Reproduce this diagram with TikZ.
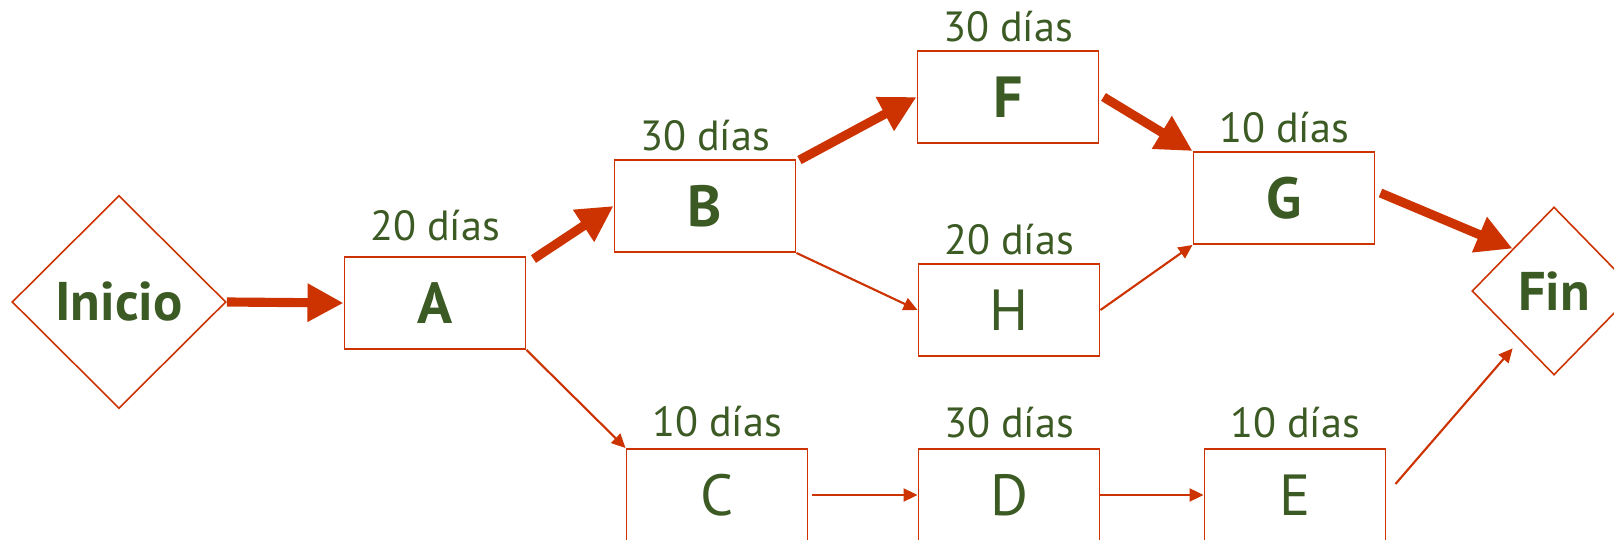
\documentclass[tikz,border=0pt]{standalone}
\usepackage{fontspec}
\setmainfont{PT Sans}
\usetikzlibrary{shapes.geometric,arrows.meta,positioning}
\definecolor{rojo}{RGB}{204,51,0}
\definecolor{verde}{RGB}{60,90,36}

\begin{document}
\begin{tikzpicture}[
  node distance=0.2cm,
  tarea/.style={rectangle, draw=rojo, line width=1.1pt,
    minimum width=3.62cm, minimum height=1.84cm,
    font=\fontsize{33}{36}\selectfont, text=verde},
  hito/.style={diamond, draw=rojo, line width=0.9pt, inner sep=0pt,
    font=\fontsize{31}{36}\selectfont\bfseries, text=verde},
  dur/.style={font=\fontsize{24}{28}\selectfont, text=verde,
    inner sep=0pt},
  crit/.style={-{Triangle[length=0.72cm,width=0.72cm]},
    line width=5.2pt, draw=rojo},
  flecha/.style={-{Triangle[length=0.28cm,width=0.26cm]},
    line width=1.2pt, draw=rojo}
]
  \useasboundingbox (0,0) rectangle (32.28,10.8);
  \clip (0,0) rectangle (32.28,10.8);

  % hitos
  \node[hito, minimum width=4.28cm, minimum height=4.26cm]
    (ini) at (2.38,4.76) {Inicio};
  \node[hito, minimum width=3.28cm, minimum height=3.36cm]
    (fin) at (31.08,4.98) {Fin};

  % actividades
  \node[tarea] (A) at (8.70,4.74)  {\textbf{A}};
  \node[tarea] (B) at (14.10,6.68) {\textbf{B}};
  \node[tarea] (F) at (20.16,8.86) {\textbf{F}};
  \node[tarea] (G) at (25.68,6.84) {\textbf{G}};
  \node[tarea] (H) at (20.18,4.60) {H};
  \node[tarea] (C) at (14.34,0.90) {C};
  \node[tarea] (D) at (20.18,0.90) {D};
  \node[tarea] (E) at (25.90,0.90) {E};

  % duraciones
  \node[dur, above=0.3cm of A] (dA) {20 días};
  \node[dur, above=0.16cm of B] (dB) {30 días};
  \node[dur, above=0.16cm of F] (dF) {30 días};
  \node[dur, above=0.16cm of G] (dG) {10 días};
  \node[dur, above=0.16cm of H] (dH) {20 días};
  \node[dur, above=0.22cm of C] (dC) {10 días};
  \node[dur, above=0.2cm of D] (dD) {30 días};
  \node[dur, above=0.2cm of E] (dE) {10 días};

  % ruta critica
  \draw[crit] (ini.east) -- (A.west);
  \draw[crit] ([shift={(0.14,-0.06)}]A.north east) -- (B.west);
  \draw[crit] ([shift={(0.06,-0.02)}]B.north east) -- (F.west);
  \draw[crit] ([shift={(0.08,0.0)}]F.east) -- (G.north west);
  \draw[crit] ([shift={(0.1,0.1)}]G.east) -- (fin.north west);

  % resto
  \draw[flecha] (B.south east) -- (H.west);
  \draw[flecha] (H.east) -- (G.south west);
  \draw[flecha] (A.south east) -- (C.north west);
  \draw[flecha] ([xshift=0.08cm]C.east) -- (D.west);
  \draw[flecha] (D.east) -- (E.west);
  \draw[flecha] ([shift={(0.18,0.22)}]E.east) -- ([shift={(0,-0.3)}]fin.south west);
\end{tikzpicture}
\end{document}
